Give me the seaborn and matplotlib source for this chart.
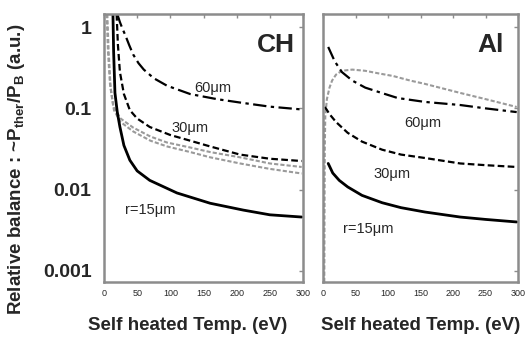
import matplotlib
matplotlib.use("Agg")
import matplotlib.pyplot as plt
import matplotlib.ticker as mticker
import seaborn as sns

# ---------------- data ----------------
# CH panel
ch_60_x = [20, 24, 28, 32, 38, 44, 52, 60, 75, 95, 130, 170, 205, 250, 298]
ch_60_y = [1.45, 1.15, 0.95, 0.8, 0.6, 0.46, 0.36, 0.3, 0.235, 0.19, 0.15, 0.13, 0.118, 0.105, 0.097]
ch_30_x = [19, 21, 24, 30, 39, 50, 69, 100, 130, 160, 205, 250, 298]
ch_30_y = [1.45, 0.6, 0.28, 0.15, 0.095, 0.075, 0.059, 0.047, 0.04, 0.034, 0.027, 0.024, 0.0225]
ch_15_x = [13.5, 14.5, 16.5, 20, 24, 30, 39, 50, 69, 110, 160, 210, 250, 298]
ch_15_y = [1.45, 0.5, 0.155, 0.09, 0.059, 0.035, 0.023, 0.017, 0.013, 0.0091, 0.0068, 0.0056, 0.0049, 0.0046]
ch_g1_x = [4, 6, 9, 14, 25, 44, 70, 95, 130, 160, 205, 250, 298]
ch_g1_y = [1.45, 0.5, 0.2, 0.105, 0.075, 0.058, 0.045, 0.038, 0.033, 0.029, 0.025, 0.021, 0.019]
ch_g2_x = [5, 7, 10, 15, 25, 44, 70, 95, 130, 160, 205, 250, 298]
ch_g2_y = [1.45, 0.5, 0.18, 0.095, 0.068, 0.052, 0.04, 0.034, 0.029, 0.025, 0.021, 0.018, 0.0158]

# Al panel
al_60_x = [8, 18, 29, 45, 65, 90, 115, 157, 211, 250, 298]
al_60_y = [0.57, 0.38, 0.28, 0.22, 0.18, 0.155, 0.134, 0.12, 0.11, 0.1, 0.09]
al_30_x = [3, 10, 20, 38, 60, 91, 120, 157, 211, 250, 298]
al_30_y = [0.104, 0.085, 0.068, 0.05, 0.039, 0.031, 0.027, 0.0245, 0.021, 0.02, 0.019]
al_15_x = [8, 15, 25, 38, 60, 91, 120, 157, 211, 250, 298]
al_15_y = [0.021, 0.016, 0.013, 0.0108, 0.0085, 0.0069, 0.006, 0.0053, 0.0046, 0.0043, 0.004]
al_g_x = [2, 2.3, 2.7, 3.5, 6, 10, 14, 20, 29, 45, 65, 85, 108, 134, 157, 211, 250, 298]
al_g_y = [0.00073, 0.005, 0.03, 0.08, 0.13, 0.18, 0.22, 0.26, 0.29, 0.30, 0.29, 0.27, 0.25, 0.22, 0.2, 0.155, 0.13, 0.104]

x_ticks = [0, 50, 100, 150, 200, 250, 300]
x_tick_labels = ["0", "50", "100", "150", "200", "250", "300"]
y_ticks = [0.001, 0.01, 0.1, 1]
y_tick_labels = ["0.001", "0.01", "0.1", "1"]

panel_titles = ["CH", "Al"]
ch_labels = ["60\u03bcm", "30\u03bcm", "r=15\u03bcm"]
al_labels = ["60\u03bcm", "30\u03bcm", "r=15\u03bcm"]
x_label = "Self heated Temp. (eV)"
y_label = r"Relative balance : ~P$_{\mathbf{ther}}$/P$_{\mathbf{B}}$ (a.u.)"

# ---------------- styling ----------------
sns.set_style("white")
plt.rcParams["font.family"] = ["Liberation Sans", "DejaVu Sans"]
plt.rcParams["mathtext.fontset"] = "custom"
plt.rcParams["mathtext.rm"] = "Liberation Sans:bold"
plt.rcParams["mathtext.bf"] = "Liberation Sans:bold"
plt.rcParams["mathtext.it"] = "Liberation Sans:bold"

fig = plt.figure(figsize=(5.25, 3.39), dpi=100)
ax1 = fig.add_axes([104 / 525, 1 - 282 / 339, 199 / 525, 268 / 339])
ax2 = fig.add_axes([323 / 525, 1 - 282 / 339, 195 / 525, 268 / 339])

frame_col = "#8c8c8c"
gray_col = "#9a9a9a"

def draw(ax, x, y, color, lw, dashes):
    sns.lineplot(x=x, y=y, ax=ax, color=color, lw=lw, estimator=None, sort=False)
    line = ax.get_lines()[-1]
    if dashes is not None:
        line.set_dashes(dashes)

# CH
draw(ax1, ch_g1_x, ch_g1_y, gray_col, 1.5, (2.0, 1.0))
draw(ax1, ch_g2_x, ch_g2_y, gray_col, 1.5, (2.0, 1.0))
draw(ax1, ch_60_x, ch_60_y, "black", 1.6, (6, 2, 1.5, 2))
draw(ax1, ch_30_x, ch_30_y, "black", 1.6, (3, 1.5))
draw(ax1, ch_15_x, ch_15_y, "black", 2.0, None)

# Al
draw(ax2, al_g_x, al_g_y, gray_col, 1.5, (2.0, 1.0))
draw(ax2, al_60_x, al_60_y, "black", 1.6, (6, 2, 1.5, 2))
draw(ax2, al_30_x, al_30_y, "black", 1.6, (3, 1.5))
draw(ax2, al_15_x, al_15_y, "black", 2.0, None)

for ax in (ax1, ax2):
    ax.set_yscale("log")
    ax.set_ylim(7.3e-4, 1.45)
    ax.set_xlim(0, 300)
    ax.set_xticks(x_ticks)
    ax.set_xticklabels(x_tick_labels, fontsize=6.5)
    ax.set_yticks(y_ticks)
    ax.yaxis.set_minor_locator(mticker.NullLocator())
    ax.tick_params(direction="in", top=True, right=True, length=3, width=1,
                   color=frame_col, pad=5)
    ax.tick_params(axis="y", pad=9)
    for s in ax.spines.values():
        s.set_color(frame_col)
        s.set_linewidth(1.8)
    ax.set_xlabel(x_label, fontsize=13.5, fontweight="bold", labelpad=8)
    ax.set_ylabel("")

ax1.set_yticklabels(y_tick_labels, fontsize=14, fontweight="bold")
ax2.set_yticklabels([])
ax1.xaxis.set_label_coords(0.42, -0.13)
ax2.xaxis.set_label_coords(0.5, -0.13)

ax1.set_ylabel(y_label, fontsize=13.5, fontweight="bold")
ax1.yaxis.set_label_coords(-0.385, 0.42)

# annotations
ax1.text(259, 0.6, panel_titles[0], fontsize=19, fontweight="bold", ha="center", va="center")
ax2.text(257, 0.6, panel_titles[1], fontsize=19, fontweight="bold", ha="center", va="center")

ax1.text(164, 0.18, ch_labels[0], fontsize=10.5, ha="center", va="center")
ax1.text(130, 0.057, ch_labels[1], fontsize=10.5, ha="center", va="center")
ax1.text(69, 0.0056, ch_labels[2], fontsize=10.5, ha="center", va="center")

ax2.text(154, 0.067, al_labels[0], fontsize=10.5, ha="center", va="center")
ax2.text(106, 0.0157, al_labels[1], fontsize=10.5, ha="center", va="center")
ax2.text(70, 0.0033, al_labels[2], fontsize=10.5, ha="center", va="center")

fig.savefig("out.png", dpi=100)
